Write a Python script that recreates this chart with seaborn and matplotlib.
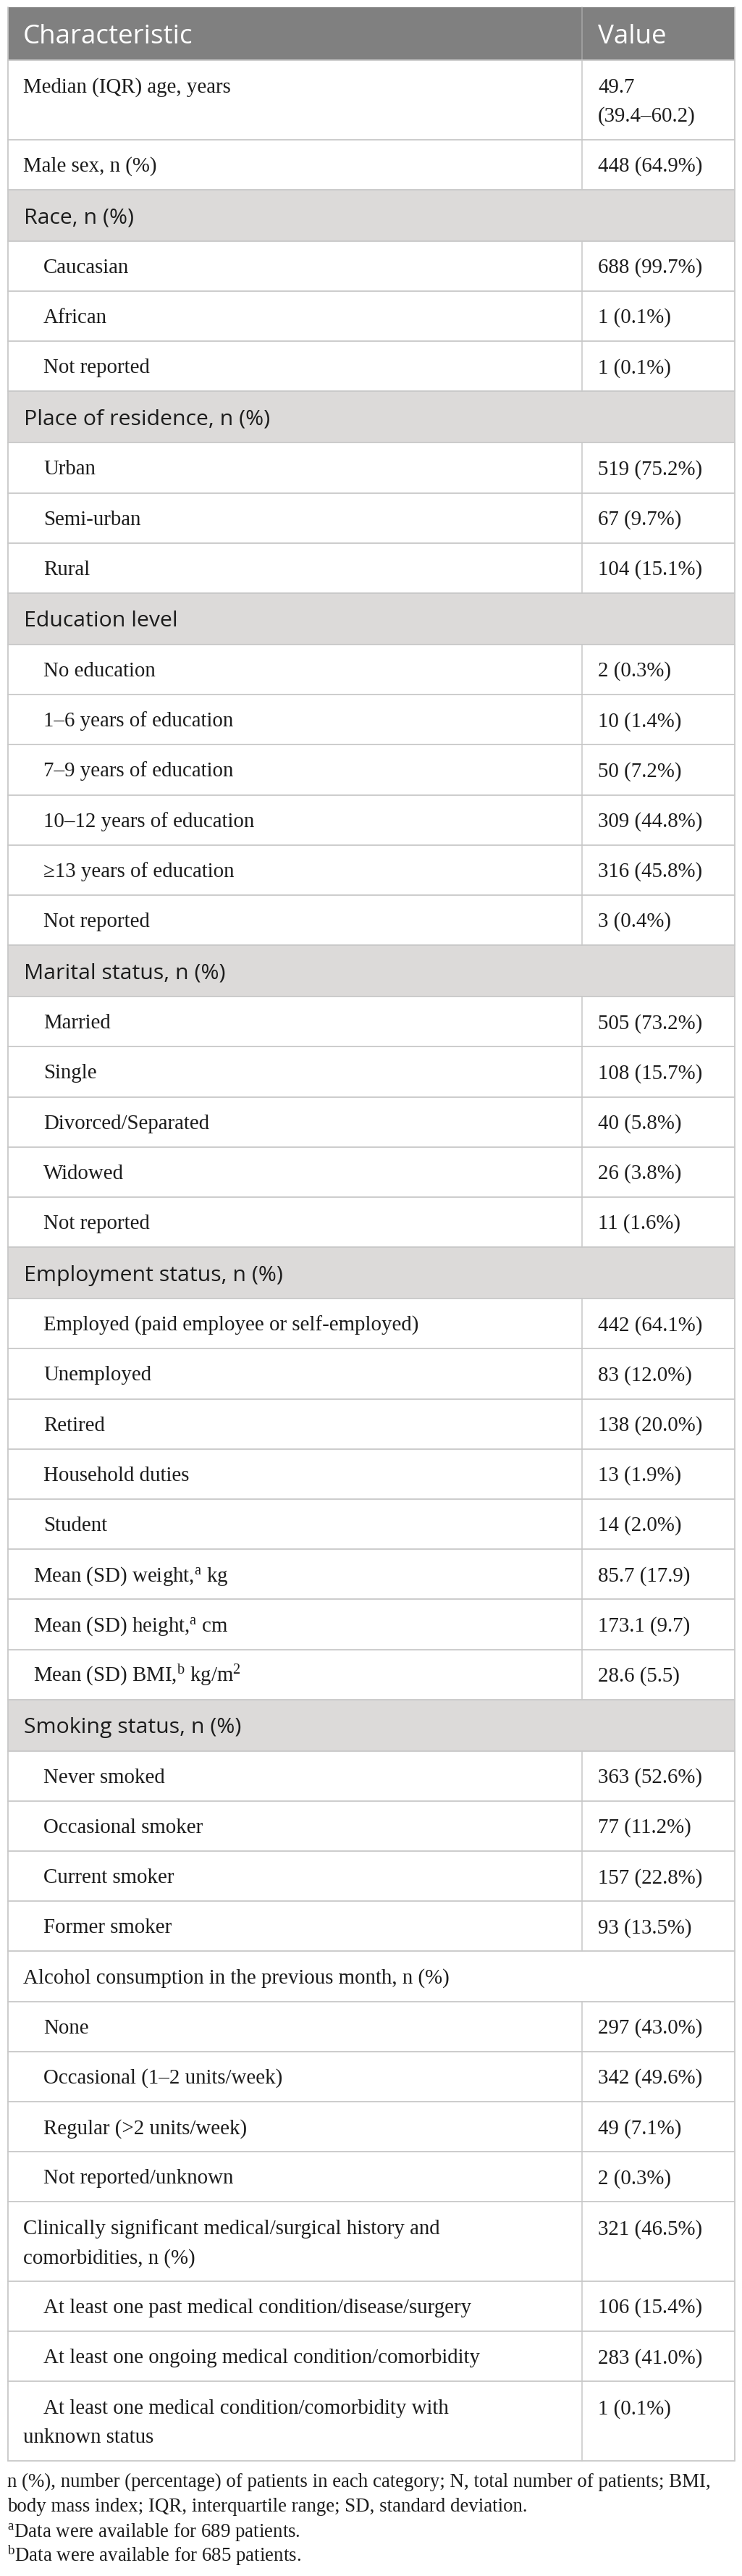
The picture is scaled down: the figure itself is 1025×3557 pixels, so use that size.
import matplotlib
matplotlib.use("Agg")
import matplotlib.pyplot as plt
import seaborn as sns
from matplotlib.patches import Rectangle

# ---------------- data ----------------
header_labels = ["Characteristic", "Value"]

labels = [
    "Median (IQR) age, years",
    "Male sex, n (%)",
    "Race, n (%)",
    "Caucasian",
    "African",
    "Not reported",
    "Place of residence, n (%)",
    "Urban",
    "Semi-urban",
    "Rural",
    "Education level",
    "No education",
    "1–6 years of education",
    "7–9 years of education",
    "10–12 years of education",
    "≥13 years of education",
    "Not reported",
    "Marital status, n (%)",
    "Married",
    "Single",
    "Divorced/Separated",
    "Widowed",
    "Not reported",
    "Employment status, n (%)",
    "Employed (paid employee or self-employed)",
    "Unemployed",
    "Retired",
    "Household duties",
    "Student",
    "Mean (SD) weight,$^{\\mathrm{a}}$ kg",
    "Mean (SD) height,$^{\\mathrm{a}}$ cm",
    "Mean (SD) BMI,$^{\\mathrm{b}}$ kg/m$^{\\mathrm{2}}$",
    "Smoking status, n (%)",
    "Never smoked",
    "Occasional smoker",
    "Current smoker",
    "Former smoker",
    "Alcohol consumption in the previous month, n (%)",
    "None",
    "Occasional (1–2 units/week)",
    "Regular (>2 units/week)",
    "Not reported/unknown",
    "Clinically significant medical/surgical history and\ncomorbidities, n (%)",
    "At least one past medical condition/disease/surgery",
    "At least one ongoing medical condition/comorbidity",
    "At least one medical condition/comorbidity with\nunknown status",
]

values = [
    "49.7\n(39.4–60.2)",
    "448 (64.9%)",
    "",
    "688 (99.7%)",
    "1 (0.1%)",
    "1 (0.1%)",
    "",
    "519 (75.2%)",
    "67 (9.7%)",
    "104 (15.1%)",
    "",
    "2 (0.3%)",
    "10 (1.4%)",
    "50 (7.2%)",
    "309 (44.8%)",
    "316 (45.8%)",
    "3 (0.4%)",
    "",
    "505 (73.2%)",
    "108 (15.7%)",
    "40 (5.8%)",
    "26 (3.8%)",
    "11 (1.6%)",
    "",
    "442 (64.1%)",
    "83 (12.0%)",
    "138 (20.0%)",
    "13 (1.9%)",
    "14 (2.0%)",
    "85.7 (17.9)",
    "173.1 (9.7)",
    "28.6 (5.5)",
    "",
    "363 (52.6%)",
    "77 (11.2%)",
    "157 (22.8%)",
    "93 (13.5%)",
    "",
    "297 (43.0%)",
    "342 (49.6%)",
    "49 (7.1%)",
    "2 (0.3%)",
    "321 (46.5%)",
    "106 (15.4%)",
    "283 (41.0%)",
    "1 (0.1%)",
]

# row kinds: main = top-level, sub = indented item, mean = slightly indented,
# sec = grey section header, span = white row spanning both columns
kinds = [
    "main", "main",
    "sec", "sub", "sub", "sub",
    "sec", "sub", "sub", "sub",
    "sec", "sub", "sub", "sub", "sub", "sub", "sub",
    "sec", "sub", "sub", "sub", "sub", "sub",
    "sec", "sub", "sub", "sub", "sub", "sub",
    "mean", "mean", "mean",
    "sec", "sub", "sub", "sub", "sub",
    "span", "sub", "sub", "sub", "sub",
    "main", "sub", "sub", "sub",
]

footnotes = [
    "n (%), number (percentage) of patients in each category; N, total number of patients; BMI,",
    "body mass index; IQR, interquartile range; SD, standard deviation.",
    "$^{\\mathrm{a}}$Data were available for 689 patients.",
    "$^{\\mathrm{b}}$Data were available for 685 patients.",
]

# ---------------- style ----------------
sns.set_theme(style="white")
plt.rcParams["mathtext.fontset"] = "custom"
plt.rcParams["mathtext.rm"] = "Liberation Serif"
plt.rcParams["mathtext.it"] = "Liberation Serif:italic"
plt.rcParams["mathtext.bf"] = "Liberation Serif:bold"

SERIF = ["Liberation Serif", "DejaVu Serif"]
SANS = ["Open Sans", "DejaVu Sans"]
TXT = "#1c1c1c"
GRID = "#c8c8c8"

W, H = 1025, 3557
fig = plt.figure(figsize=(W / 100, H / 100), dpi=100)
ax = fig.add_axes([0, 0, 1, 1])
ax.set_xlim(0, W)
ax.set_ylim(H, 0)
ax.axis("off")

L, R, DIV = 10.5, 1015, 804
X_VAL = 826
INDENT = {"main": 32, "span": 32, "sec": 33, "sub": 60, "mean": 46}
BODY_FS = 20.8
SEC_FS = 21.8
HEAD_FS = 26.5
FOOT_FS = 19.4

# header
top = 10
hh = 73
ax.add_patch(Rectangle((L, top), R - L, hh, facecolor="#808080", edgecolor="none", zorder=1))
ax.plot([DIV, DIV], [top, top + hh], color="#a6a6a6", lw=1.1, zorder=2)
ax.text(32, top + hh / 2 + 13.5, header_labels[0], color="white", fontsize=HEAD_FS,
        family=SANS, va="baseline", ha="left", zorder=3)
ax.text(X_VAL, top + hh / 2 + 13.5, header_labels[1], color="white", fontsize=HEAD_FS,
        family=SANS, va="baseline", ha="left", zorder=3)

y = top + hh
hlines = [y]
vsegs = []
for lab, val, kind in zip(labels, values, kinds):
    multi = ("\n" in lab) or ("\n" in val)
    if kind == "sec":
        h = 71
    elif multi:
        h = 109.5
    else:
        h = 69.2
    if kind == "sec":
        ax.add_patch(Rectangle((L, y), R - L, h, facecolor="#dcdad9", edgecolor="none", zorder=1))
        ax.text(INDENT[kind], y + h / 2 + 11, lab, color=TXT, fontsize=SEC_FS,
                family=SANS, va="baseline", ha="left", zorder=3)
    else:
        if multi:
            base0 = y + 45
        else:
            base0 = y + h / 2 + 9.5
        for i, line in enumerate(lab.split("\n")):
            x0 = INDENT[kind] if i == 0 else 32
            ax.text(x0, base0 + 40 * i, line, color=TXT, fontsize=BODY_FS,
                    family=SERIF, va="baseline", ha="left", zorder=3)
        for i, line in enumerate(val.split("\n")):
            if line:
                ax.text(X_VAL, base0 + 40 * i, line, color=TXT, fontsize=BODY_FS,
                        family=SERIF, va="baseline", ha="left", zorder=3)
        if kind != "span":
            vsegs.append((y, y + h))
    y += h
    hlines.append(y)

table_bottom = y
for yy in hlines:
    ax.plot([L, R], [yy, yy], color=GRID, lw=1.3, zorder=2)
for (y0, y1) in vsegs:
    ax.plot([DIV, DIV], [y0, y1], color=GRID, lw=1.1, zorder=2)
ax.plot([L, L], [top, table_bottom], color=GRID, lw=1.3, zorder=2)
ax.plot([R, R], [top, table_bottom], color=GRID, lw=1.3, zorder=2)

# footnotes
fy = table_bottom + 36
for i, line in enumerate(footnotes):
    ax.text(10, fy + 34.5 * i, line, color=TXT, fontsize=FOOT_FS, family=SERIF,
            va="baseline", ha="left")

fig.savefig("out.png", dpi=100, facecolor="white")
